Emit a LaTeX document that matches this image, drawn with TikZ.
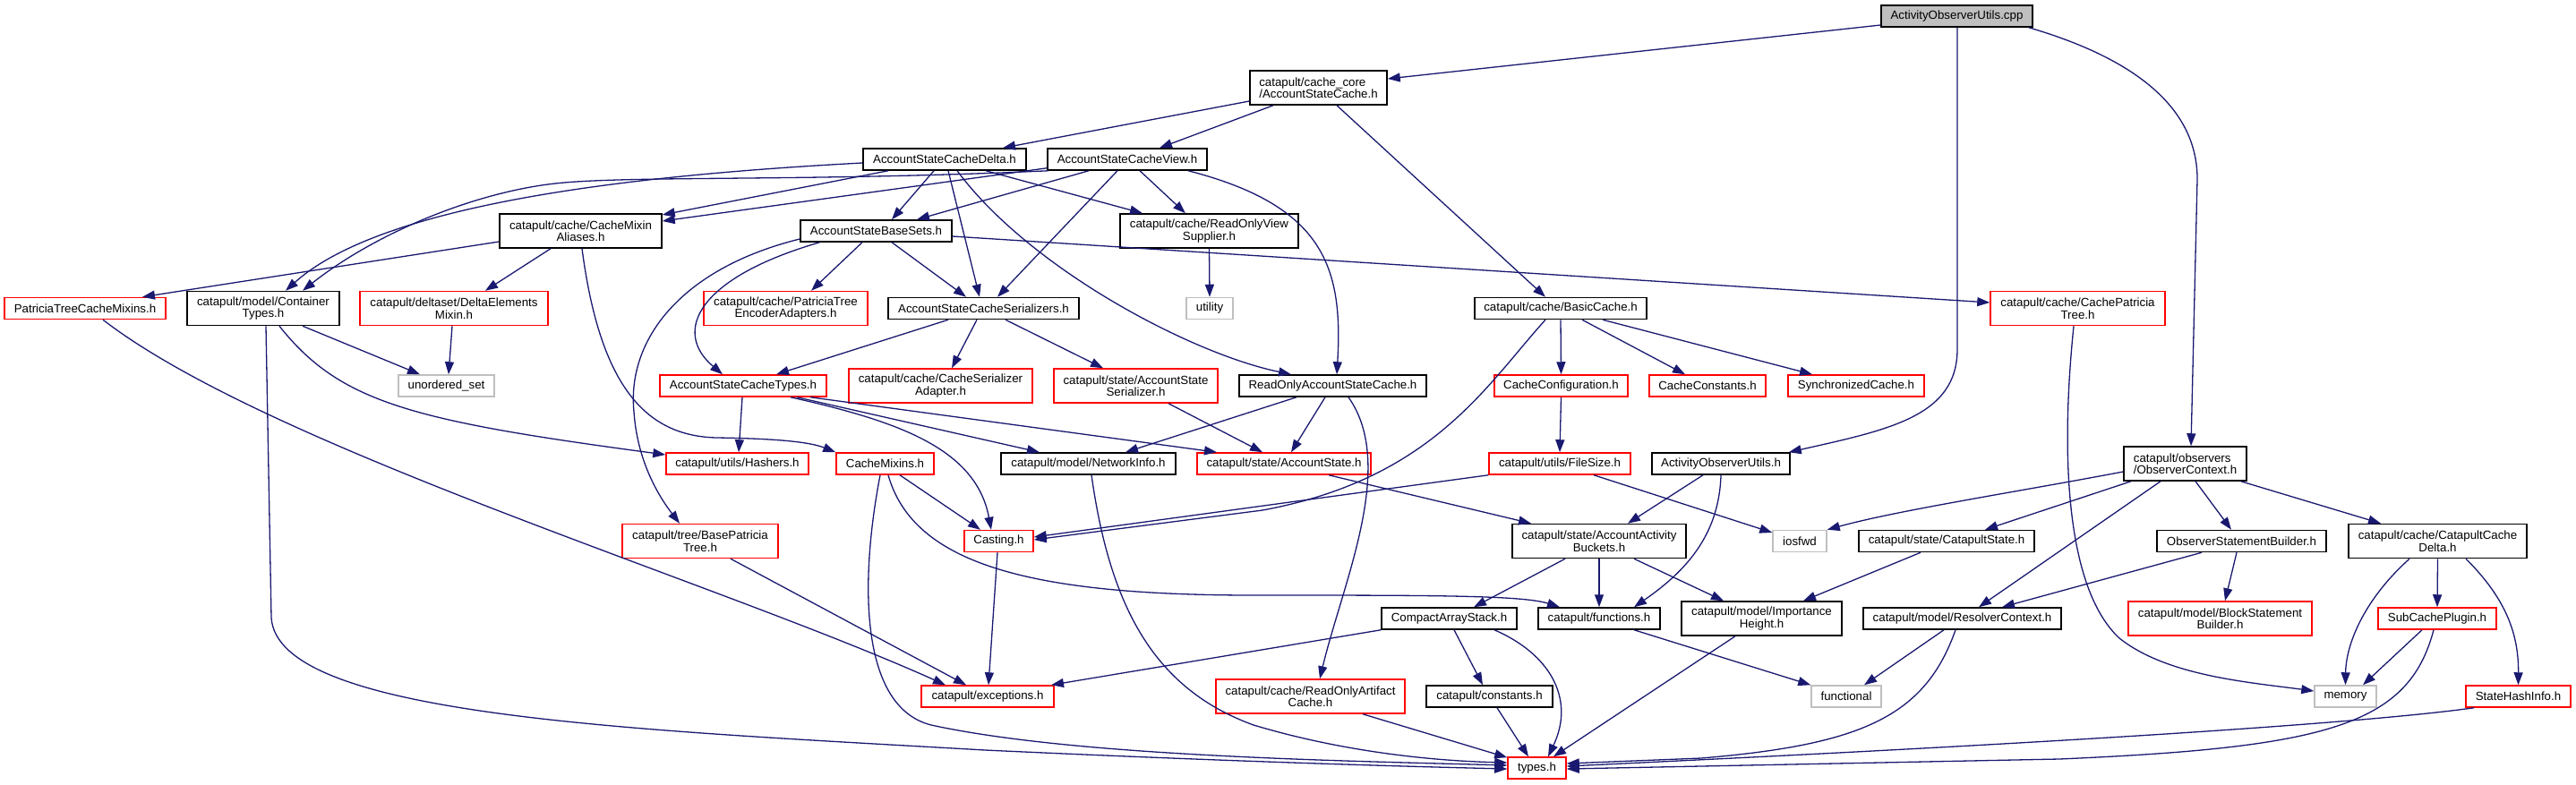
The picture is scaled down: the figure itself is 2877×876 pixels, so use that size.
\documentclass[tikz,border=0pt]{standalone}
\usepackage{fontspec}
\setmainfont{Liberation Sans}
\usepackage{tikz}
\usetikzlibrary{arrows.meta}
\definecolor{edgeblue}{HTML}{191970}
\definecolor{sysgray}{HTML}{BFBFBF}
\begin{document}
\begin{tikzpicture}[x=1pt,y=-1pt,
  font=\fontsize{13.3}{13.5}\selectfont,
  hdr/.style={draw=black,line width=1.5pt,fill=white,inner sep=0pt,minimum height=24pt,align=center},
  redhdr/.style={hdr,draw=red},
  syshdr/.style={hdr,draw=sysgray},
  roothdr/.style={hdr,fill=sysgray},
  tall/.style={minimum height=38pt},
  edge/.style={draw=edgeblue,line width=1.3pt,-{Triangle[length=14pt,width=10pt]}}]
\useasboundingbox (0,0) rectangle (2877,876);

\node[roothdr,minimum width=169pt] (cpp) at (2185.5,18) {ActivityObserverUtils.cpp};
\node[hdr,tall,align=left,minimum width=153pt] (asc) at (1472.5,98) {catapult/cache\_core\\/AccountStateCache.h};
\node[hdr,minimum width=182pt] (delta) at (1055,178) {AccountStateCacheDelta.h};
\node[hdr,minimum width=178pt] (view) at (1259,178) {AccountStateCacheView.h};
\node[hdr,tall,minimum width=181pt] (aliases) at (648.5,258) {catapult/cache/CacheMixin\\Aliases.h};
\node[hdr,minimum width=169pt] (basesets) at (978.5,258) {AccountStateBaseSets.h};
\node[hdr,tall,minimum width=199pt] (roview) at (1350.5,258) {catapult/cache/ReadOnlyView\\Supplier.h};
\node[redhdr,minimum width=180pt] (ptcmixins) at (95,344.5) {PatriciaTreeCacheMixins.h};
\node[hdr,tall,minimum width=170pt] (contypes) at (294,344.5) {catapult/model/Container\\Types.h};
\node[redhdr,tall,minimum width=210pt] (demixin) at (507,344.5) {catapult/deltaset/DeltaElements\\Mixin.h};
\node[redhdr,tall,minimum width=183pt] (ptencoder) at (877.5,344.5) {catapult/cache/PatriciaTree\\EncoderAdapters.h};
\node[hdr,minimum width=213pt] (serializers) at (1098.5,344.5) {AccountStateCacheSerializers.h};
\node[syshdr,minimum width=52pt] (utility) at (1351,344.5) {utility};
\node[hdr,minimum width=192pt] (basiccache) at (1743,344.5) {catapult/cache/BasicCache.h};
\node[redhdr,tall,minimum width=195pt] (cpatricia) at (2320.5,344.5) {catapult/cache/CachePatricia\\Tree.h};
\node[syshdr,minimum width=107pt] (unordered) at (498.5,431) {unordered\_set};
\node[redhdr,minimum width=186pt] (cstypes) at (830,431) {AccountStateCacheTypes.h};
\node[redhdr,tall,minimum width=205pt] (serialadapter) at (1050.5,431) {catapult/cache/CacheSerializer\\Adapter.h};
\node[redhdr,tall,minimum width=183pt] (asserializer) at (1268.5,431) {catapult/state/AccountState\\Serializer.h};
\node[hdr,minimum width=209pt] (roascache) at (1488.5,431) {ReadOnlyAccountStateCache.h};
\node[redhdr,minimum width=149pt] (cacheconfig) at (1743.5,431) {CacheConfiguration.h};
\node[redhdr,minimum width=130pt] (cacheconst) at (1907,431) {CacheConstants.h};
\node[redhdr,minimum width=152pt] (synccache) at (2073,431) {SynchronizedCache.h};
\node[redhdr,minimum width=159pt] (hashers) at (823.5,518) {catapult/utils/Hashers.h};
\node[redhdr,minimum width=109pt] (cachemixins) at (988.5,518) {CacheMixins.h};
\node[hdr,minimum width=195pt] (networkinfo) at (1215.5,518) {catapult/model/NetworkInfo.h};
\node[redhdr,minimum width=194pt] (accstate) at (1434,518) {catapult/state/AccountState.h};
\node[redhdr,minimum width=158pt] (filesize) at (1742,518) {catapult/utils/FileSize.h};
\node[hdr,minimum width=154pt] (aoutilsh) at (1922,518) {ActivityObserverUtils.h};
\node[hdr,tall,align=left,minimum width=137pt] (ctxt) at (2440.5,518) {catapult/observers\\/ObserverContext.h};
\node[redhdr,tall,minimum width=174pt] (baseptree) at (782,604.5) {catapult/tree/BasePatricia\\Tree.h};
\node[redhdr,minimum width=77pt] (casting) at (1115.5,604.5) {Casting.h};
\node[hdr,tall,minimum width=194pt] (buckets) at (1786,604.5) {catapult/state/AccountActivity\\Buckets.h};
\node[syshdr,minimum width=60pt] (iosfwd) at (2010,604.5) {iosfwd};
\node[hdr,minimum width=196pt] (catstate) at (2174,604.5) {catapult/state/CatapultState.h};
\node[hdr,minimum width=189pt] (osbuilder) at (2503.5,604.5) {ObserverStatementBuilder.h};
\node[hdr,tall,minimum width=199pt] (ccdelta) at (2722.5,604.5) {catapult/cache/CatapultCache\\Delta.h};
\node[hdr,minimum width=151pt] (compact) at (1618.5,691) {CompactArrayStack.h};
\node[hdr,minimum width=136pt] (functions) at (1786,691) {catapult/functions.h};
\node[hdr,tall,minimum width=179pt] (importance) at (1967.5,691) {catapult/model/Importance\\Height.h};
\node[hdr,minimum width=221pt] (resolver) at (2191.5,691) {catapult/model/ResolverContext.h};
\node[redhdr,tall,minimum width=205pt] (blockstmt) at (2479.5,691) {catapult/model/BlockStatement\\Builder.h};
\node[redhdr,minimum width=132pt] (subcache) at (2722,691) {SubCachePlugin.h};
\node[redhdr,minimum width=148pt] (exceptions) at (1103,778) {catapult/exceptions.h};
\node[redhdr,tall,minimum width=211pt] (roartifact) at (1463.5,778) {catapult/cache/ReadOnlyArtifact\\Cache.h};
\node[hdr,minimum width=141pt] (constants) at (1663.5,778) {catapult/constants.h};
\node[syshdr,minimum width=78pt] (functional) at (2062,778) {functional};
\node[syshdr,minimum width=69pt] (memory) at (2619.5,778) {memory};
\node[redhdr,minimum width=117pt] (statehash) at (2812.5,778) {StateHashInfo.h};
\node[redhdr,minimum width=65pt] (types) at (1716.5,858) {types.h};

\draw[edge] ([yshift=-10pt]cpp.west) -- ([yshift=10pt]asc.east);
\draw[edge] ([xshift=0.5pt]cpp.south) -- (2186,390) .. controls (2186,465) and (2110,480) .. ([xshift=-2pt]aoutilsh.north east);
\draw[edge] ([xshift=-5pt]cpp.south east) .. controls (2400,70) and (2454,130) .. (2454,200) -- ([xshift=6.5pt]ctxt.north);
\draw[edge] ([yshift=-15pt]asc.west) -- ([xshift=65pt]delta.north);
\draw[edge] ([xshift=-50.5pt]asc.south) -- ([xshift=36pt]view.north);
\draw[edge] ([xshift=20.5pt]asc.south) -- ([xshift=-17pt]basiccache.north);
\draw[edge] ([yshift=-4pt]delta.west) .. controls (720,195) and (430,225) .. ([xshift=25pt]contypes.north);
\draw[edge] ([xshift=-63pt]delta.south) -- ([yshift=18pt]aliases.east);
\draw[edge] ([xshift=-12pt]delta.south) -- ([xshift=17.5pt]basesets.north);
\draw[edge] ([xshift=4pt]delta.south) -- ([xshift=-4.5pt]serializers.north);
\draw[edge] ([xshift=14pt]delta.south) .. controls (1150,300) and (1330,395) .. ([xshift=-46.5pt]roascache.north);
\draw[edge] ([xshift=46pt]delta.south) -- ([xshift=-74.5pt]roview.north);
\draw[edge] ([xshift=2pt]view.south west) .. controls (900,203) and (700,196) .. (620,205) .. controls (530,215) and (420,260) .. ([xshift=44pt]contypes.north);
\draw[edge] ([yshift=3pt]view.south west) -- ([yshift=11pt]aliases.east);
\draw[edge] ([xshift=-43pt]view.south) -- ([xshift=45.5pt]basesets.north);
\draw[edge] ([xshift=-11pt]view.south) -- ([xshift=15.5pt]serializers.north);
\draw[edge] ([xshift=14pt]view.south) -- ([xshift=-26.5pt]roview.north);
\draw[edge] ([xshift=68pt]view.south) .. controls (1480,230) and (1500,300) .. ([xshift=4.5pt]roascache.north);
\draw[edge] ([yshift=-12pt]aliases.west) -- ([xshift=64pt]ptcmixins.north);
\draw[edge] ([xshift=-33.5pt]aliases.south) -- ([xshift=35pt]demixin.north);
\draw[edge] ([xshift=1.5pt]aliases.south) .. controls (670,430) and (720,487) .. (800,489) .. controls (870,490) and (905,494) .. (cachemixins.north west);
\draw[edge] ([xshift=-15.5pt]basesets.south) -- ([xshift=28.5pt]ptencoder.north);
\draw[edge] ([xshift=17.5pt]basesets.south) -- ([xshift=-19.5pt]serializers.north);
\draw[edge] ([yshift=-6pt]basesets.east) -- ([yshift=6.5pt]cpatricia.west);
\draw[edge] ([yshift=-9pt]basesets.west) .. controls (760,300) and (700,380) .. (708,460) .. controls (712,520) and (740,560) .. ([xshift=-23pt]baseptree.north);
\draw[edge] ([xshift=-63pt]basesets.south) .. controls (780,310) and (750,370) .. ([xshift=-23pt]cstypes.north);
\draw[edge] ([xshift=44pt]contypes.south) -- ([xshift=-29.5pt]unordered.north);
\draw[edge] ([xshift=18pt]contypes.south) .. controls (380,450) and (460,470) .. ([yshift=10pt]hashers.west);
\draw[edge] ([xshift=3pt]contypes.south) -- (303,690) .. controls (310,800) and (700,815) .. (1100,838) .. controls (1400,852) and (1600,857) .. ([yshift=-1pt]types.west);
\draw[edge] ([xshift=-2pt]demixin.south) -- ([xshift=2.5pt]unordered.north);
\draw[edge] ([xshift=20pt]ptcmixins.south) .. controls (300,500) and (800,650) .. ([xshift=-47pt]exceptions.north);
\draw[edge] ([xshift=34pt]baseptree.south) -- ([xshift=-24pt]exceptions.north);
\draw[edge] ([xshift=-1pt]cstypes.south) -- ([xshift=1.5pt]hashers.north);
\draw[edge] ([xshift=60pt]cstypes.south) -- ([xshift=-54.5pt]networkinfo.north);
\draw[edge] ([xshift=75pt]cstypes.south) -- ([xshift=-75pt]accstate.north);
\draw[edge] ([xshift=53pt]cstypes.south) .. controls (1000,470) and (1090,500) .. ([xshift=-8.5pt]casting.north);
\draw[edge] ([xshift=-39.5pt]serializers.south) -- ([xshift=37pt]cstypes.north);
\draw[edge] ([xshift=-7.5pt]serializers.south) -- ([xshift=12.5pt]serialadapter.north);
\draw[edge] ([xshift=24.5pt]serializers.south) -- ([xshift=-36.5pt]asserializer.north);
\draw[edge] (roview.south) -- (utility.north);
\draw[edge] ([xshift=-17pt]basiccache.south) .. controls (1660,430) and (1600,535) .. (1410,570) -- ([yshift=1.5pt]casting.east);
\draw[edge] (basiccache.south) -- (cacheconfig.north);
\draw[edge] ([xshift=24pt]basiccache.south) -- ([xshift=-25pt]cacheconst.north);
\draw[edge] ([xshift=47pt]basiccache.south) -- ([xshift=-49pt]synccache.north);
\draw[edge] ([xshift=-4.5pt]cpatricia.south) .. controls (2300,520) and (2310,660) .. (2367,713) .. controls (2420,755) and (2510,762) .. ([yshift=6pt]memory.west);
\draw[edge] ([xshift=-40.5pt]roascache.south) -- ([xshift=41.5pt]networkinfo.north);
\draw[edge] ([xshift=-8.5pt]roascache.south) -- ([xshift=8pt]accstate.north);
\draw[edge] ([xshift=17.5pt]roascache.south) .. controls (1560,520) and (1500,650) .. ([xshift=10.5pt]roartifact.north);
\draw[edge] ([xshift=36.5pt]asserializer.south) -- ([xshift=-24pt]accstate.north);
\draw[edge] (cacheconfig.south) -- (filesize.north);
\draw[edge] ([xshift=16.5pt]cachemixins.south) -- ([xshift=-20.5pt]casting.north);
\draw[edge] ([xshift=3.5pt]cachemixins.south) .. controls (1020,630) and (1150,665) .. (1400,665) .. controls (1600,665) and (1700,665) .. ([xshift=-44pt]functions.north);
\draw[edge] ([xshift=-5.5pt]cachemixins.south) .. controls (960,650) and (960,790) .. (1040,810) .. controls (1200,845) and (1500,850) .. ([yshift=3pt]types.west);
\draw[edge] ([xshift=3.5pt]networkinfo.south) .. controls (1240,680) and (1290,770) .. (1400,810) .. controls (1500,840) and (1600,850) .. ([yshift=6pt]types.west);
\draw[edge] ([xshift=50pt]accstate.south) -- ([xshift=-76pt]buckets.north);
\draw[edge] (filesize.south west) -- ([yshift=4.5pt]casting.east);
\draw[edge] ([xshift=38pt]filesize.south) -- ([yshift=9.5pt]iosfwd.west);
\draw[edge] ([xshift=-20pt]aoutilsh.south) -- ([xshift=32pt]buckets.north);
\draw[edge] (aoutilsh.south) .. controls (1920,600) and (1880,640) .. ([xshift=39pt]functions.north);
\draw[edge] ([xshift=-1.5pt]casting.south) -- ([xshift=1pt]exceptions.north);
\draw[edge] ([xshift=-38pt]buckets.south) -- ([xshift=27.5pt]compact.north);
\draw[edge] (buckets.south) -- (functions.north);
\draw[edge] ([xshift=39pt]buckets.south) -- ([xshift=-42.5pt]importance.north);
\draw[edge] (compact.south west) -- ([xshift=71pt]exceptions.north);
\draw[edge] ([xshift=5.5pt]compact.south) -- ([xshift=-7.5pt]constants.north);
\draw[edge] ([xshift=50.5pt]compact.south) .. controls (1730,730) and (1760,780) .. ([xshift=12.5pt]types.north);
\draw[edge] ([xshift=39pt]functions.south) -- (functional.north west);
\draw[edge] ([xshift=58.5pt]roartifact.south) -- ([yshift=-1pt]types.north west);
\draw[edge] ([xshift=8.5pt]constants.south) -- ([xshift=-9.5pt]types.north);
\draw[edge] ([xshift=-29.5pt]importance.south) -- ([xshift=18.5pt]types.north);
\draw[edge] ([yshift=-9pt]ctxt.west) .. controls (2250,550) and (2120,570) .. (iosfwd.north east);
\draw[edge] ([xshift=-60.5pt]ctxt.south) -- ([xshift=43pt]catstate.north);
\draw[edge] ([xshift=-27.5pt]ctxt.south) -- ([xshift=18.5pt]resolver.north);
\draw[edge] ([xshift=11.5pt]ctxt.south) -- ([xshift=-11.5pt]osbuilder.north);
\draw[edge] ([xshift=-7pt]ctxt.south east) -- ([xshift=-63.5pt]ccdelta.north);
\draw[edge] ([xshift=-29pt]catstate.south) -- ([xshift=46.5pt]importance.north);
\draw[edge] ([xshift=-44.5pt]osbuilder.south) -- ([xshift=44.5pt]resolver.north);
\draw[edge] ([xshift=-5.5pt]osbuilder.south) -- ([xshift=5.5pt]blockstmt.north);
\draw[edge] ([xshift=-20.5pt]resolver.south) -- ([xshift=20pt]functional.north);
\draw[edge] ([xshift=-7.5pt]resolver.south) .. controls (2150,800) and (2080,832) .. (1900,847) -- ([yshift=5pt]types.east);
\draw[edge] ([xshift=-31.5pt]ccdelta.south) .. controls (2640,670) and (2620,720) .. (memory.north);
\draw[edge] (ccdelta.south) -- (subcache.north);
\draw[edge] ([xshift=31.5pt]ccdelta.south) .. controls (2800,670) and (2813,710) .. (statehash.north);
\draw[edge] ([xshift=-17pt]subcache.south) -- ([xshift=19.5pt]memory.north);
\draw[edge] ([xshift=-4pt]subcache.south) .. controls (2690,810) and (2600,835) .. (2300,848) -- ([yshift=-1pt]types.east);
\draw[edge] ([xshift=-49.5pt]statehash.south) .. controls (2640,808) and (2300,830) .. ([yshift=2pt]types.east);
\end{tikzpicture}
\end{document}
